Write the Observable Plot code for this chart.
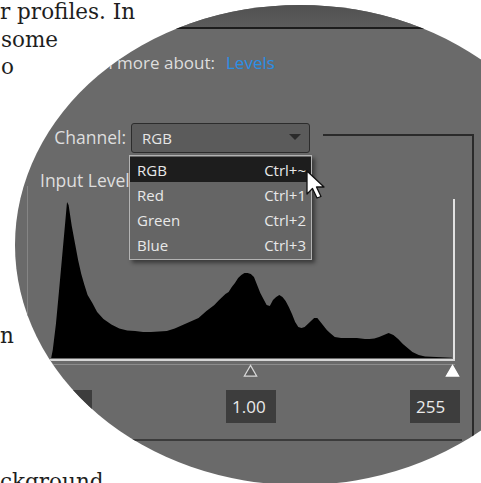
<!DOCTYPE html>
<html><head><meta charset="utf-8">
<script src="https://cdn.jsdelivr.net/npm/d3@7"></script>
<script src="https://cdn.jsdelivr.net/npm/@observablehq/plot@0.6"></script>
<style>
html,body{margin:0;padding:0;background:#fff;}
#page{position:relative;width:481px;height:483px;overflow:hidden;background:#fff;}
.book{position:absolute;font-family:"DejaVu Serif",serif;font-size:21.5px;color:#1e1e1e;white-space:nowrap;line-height:22px;}
#lens{position:absolute;left:0;top:0;width:481px;height:483px;background:#6a6a6a;font-family:"Open Sans","Noto Sans",sans-serif;}
.ui{position:absolute;color:#e4e4e4;font-size:15px;white-space:nowrap;line-height:16px;}
.lbl{position:absolute;color:#dedede;font-size:17.5px;white-space:nowrap;line-height:18px;}
.blk{position:absolute;}
#plot{position:absolute;left:0;top:0;}
</style>
</head><body>
<div id="page">
  <div class="book" style="left:0px;top:1px">r profiles. In</div>
  <div class="book" style="left:1px;top:29px">some</div>
  <div class="book" style="left:1px;top:56px">o</div>
  <div class="book" style="left:0px;top:325px">n</div>
  <div class="book" style="left:0px;top:471px">ckground</div>
  <div id="lens"></div>
</div>
<script>
// ---- data ----
const histLevels = [2,3,5,7,9,11,12,13,15,17,19,21,23,25,28,31,35,40,45,50,55,60,65,70,75,80,85,90,95,100,105,108,110,112,114,116,118,120,122,124,126,128,130,132,134,136,138,140,142,144,146,148,150,152,154,156,158,160,162,164,166,168,170,172,174,176,178,181,185,190,195,200,203,206,209,212,215,218,221,224,227,230,234,238,245,252,255];
const histCounts = [0,8,34,68,103,138,156,153,132,115,98,84,73,63,55,46,39,33.5,29.5,27.5,27,26,26,26.5,27,29.5,33,36.5,40,47,53,58,61,64,66,71,75,80,83,85,85,84,81,73,65,59,53,52,58,61,63,61,57,51,44,36,31,30,31,34,37,40,40,36,32,28,25,21,20,20,20,19,19,19.5,21,23,25,23,19,14,10,6,3,1.5,1,0.5,0.3];
const sliderLevels = [0, 127.5, 255];
const sliderFills = ["#1a1a1a", "#5a5a5a", "#ffffff"];
const sliderStrokes = ["#888888", "#d8d8d8", "#ffffff"];
const channelItems = ["RGB", "Red", "Green", "Blue"];
const channelKeys = ["Ctrl+~", "Ctrl+1", "Ctrl+2", "Ctrl+3"];
const inputValues = ["0", "1.00", "255"];
const linkLabel = "Learn more about:";
const linkText = "Levels";
const channelLabel = "Channel:";
const inputLabel = "Input Levels:";

const hist = histLevels.map((l, i) => ({level: l, count: histCounts[i]}));
const sliders = sliderLevels.map((l, i) => ({level: l, fill: sliderFills[i], stroke: sliderStrokes[i]}));

// ---- lens shape (ellipse) ----
const lens = document.getElementById("lens");
lens.style.clipPath = "ellipse(285px 240px at 300px 245px)";

function add(cls, css, text, parent) {
  const el = document.createElement("div");
  el.className = cls;
  el.style.cssText = css;
  if (text != null) el.textContent = text;
  (parent || lens).appendChild(el);
  return el;
}

// dialog chrome
add("blk", "left:0;top:0;width:481px;height:27px;background:linear-gradient(#4e4e4e,#5c5c5c)");
add("blk", "left:0;top:27px;width:481px;height:2px;background:#1c1c1c");
add("lbl", "right:266px;top:54px;font-size:17px", linkLabel);
add("lbl", "left:226px;top:54px;font-size:17px;color:#2a8fe6", linkText);
add("lbl", "right:355px;top:128px", channelLabel);
// dropdown
add("blk", "left:131px;top:123px;width:177px;height:28px;background:#5b5b5b;border:1px solid #2c2c2c;border-radius:3px");
add("ui", "left:142px;top:130px;color:#e6e6e6", channelItems[0]);
add("blk", "left:289px;top:134px;width:0;height:0;border-left:6px solid transparent;border-right:6px solid transparent;border-top:6px solid #2a2a2a");
// group box lines
add("blk", "left:323px;top:134px;width:151px;height:2px;background:#2a2a2a");
add("blk", "left:472px;top:134px;width:2px;height:312px;background:#2a2a2a");
// input levels label (its end is hidden behind the open menu)
const lblWrap = add("blk", "left:40px;top:170px;width:89px;height:22px;overflow:hidden");
add("lbl", "left:0;top:1px", inputLabel, lblWrap);
// histogram frame
add("blk", "left:27px;top:186px;width:1px;height:174px;background:#858585");
add("blk", "left:453px;top:199px;width:2px;height:161px;background:#e2e2e2");
add("blk", "left:27px;top:359px;width:428px;height:2px;background:#d6d6d6");
add("blk", "left:27px;top:364px;width:428px;height:1px;background:#8d8d8d");

// ---- Plot: histogram + sliders ----
const plot = Plot.plot({
  width: 481,
  height: 483,
  marginLeft: 48,
  marginRight: 29,
  marginTop: 202,
  marginBottom: 125,
  x: {domain: [0, 255], axis: null},
  y: {domain: [0, 156], axis: null},
  color: {type: "identity"},
  style: {background: "transparent", overflow: "visible"},
  marks: [
    Plot.areaY(hist, {x: "level", y: "count", fill: "#000", curve: "linear"}),
    Plot.dot(sliders, {x: "level", frameAnchor: "bottom", dy: 14, symbol: "triangle", r: 4.6, fill: "fill", stroke: "stroke", strokeWidth: 1.2})
  ]
});
plot.id = "plot";
lens.appendChild(plot);

// input boxes
const boxX = [42, 226, 410];
inputValues.forEach((v, i) => {
  add("blk", `left:${boxX[i]}px;top:390px;width:50px;height:33px;background:#3d3d3d`);
  add("lbl", `left:${boxX[i] + 6}px;top:398px;font-size:17px;color:#eaeaea`, v);
});
add("blk", "left:10px;top:439px;width:452px;height:2px;background:#3b3b3b");

// dropdown menu
add("blk", "left:129px;top:155px;width:181px;height:103px;background:#656565;border:1px solid #b3b3b3;box-shadow:3px 3px 4px rgba(0,0,0,0.45)");
add("blk", "left:130px;top:157px;width:181px;height:25px;background:#1d1d1d");
channelItems.forEach((c, i) => {
  add("ui", `left:137px;top:${162 + i * 25}px;color:#e8e8e8`, c);
  add("ui", `right:${481 - 306}px;top:${162 + i * 25}px;color:#e8e8e8`, channelKeys[i]);
});

// cursor
const cur = document.createElementNS("http://www.w3.org/2000/svg", "svg");
cur.setAttribute("width", "30"); cur.setAttribute("height", "34");
cur.style.cssText = "position:absolute;left:306px;top:170px;overflow:visible";
cur.innerHTML = '<path d="M1 1 L1 24 L6.5 18.5 L11 28 L15 26.5 L10.5 17 L18 17 Z" fill="#fff" stroke="#111" stroke-width="1.3" stroke-linejoin="round"/>';
lens.appendChild(cur);
</script>
</body></html>
